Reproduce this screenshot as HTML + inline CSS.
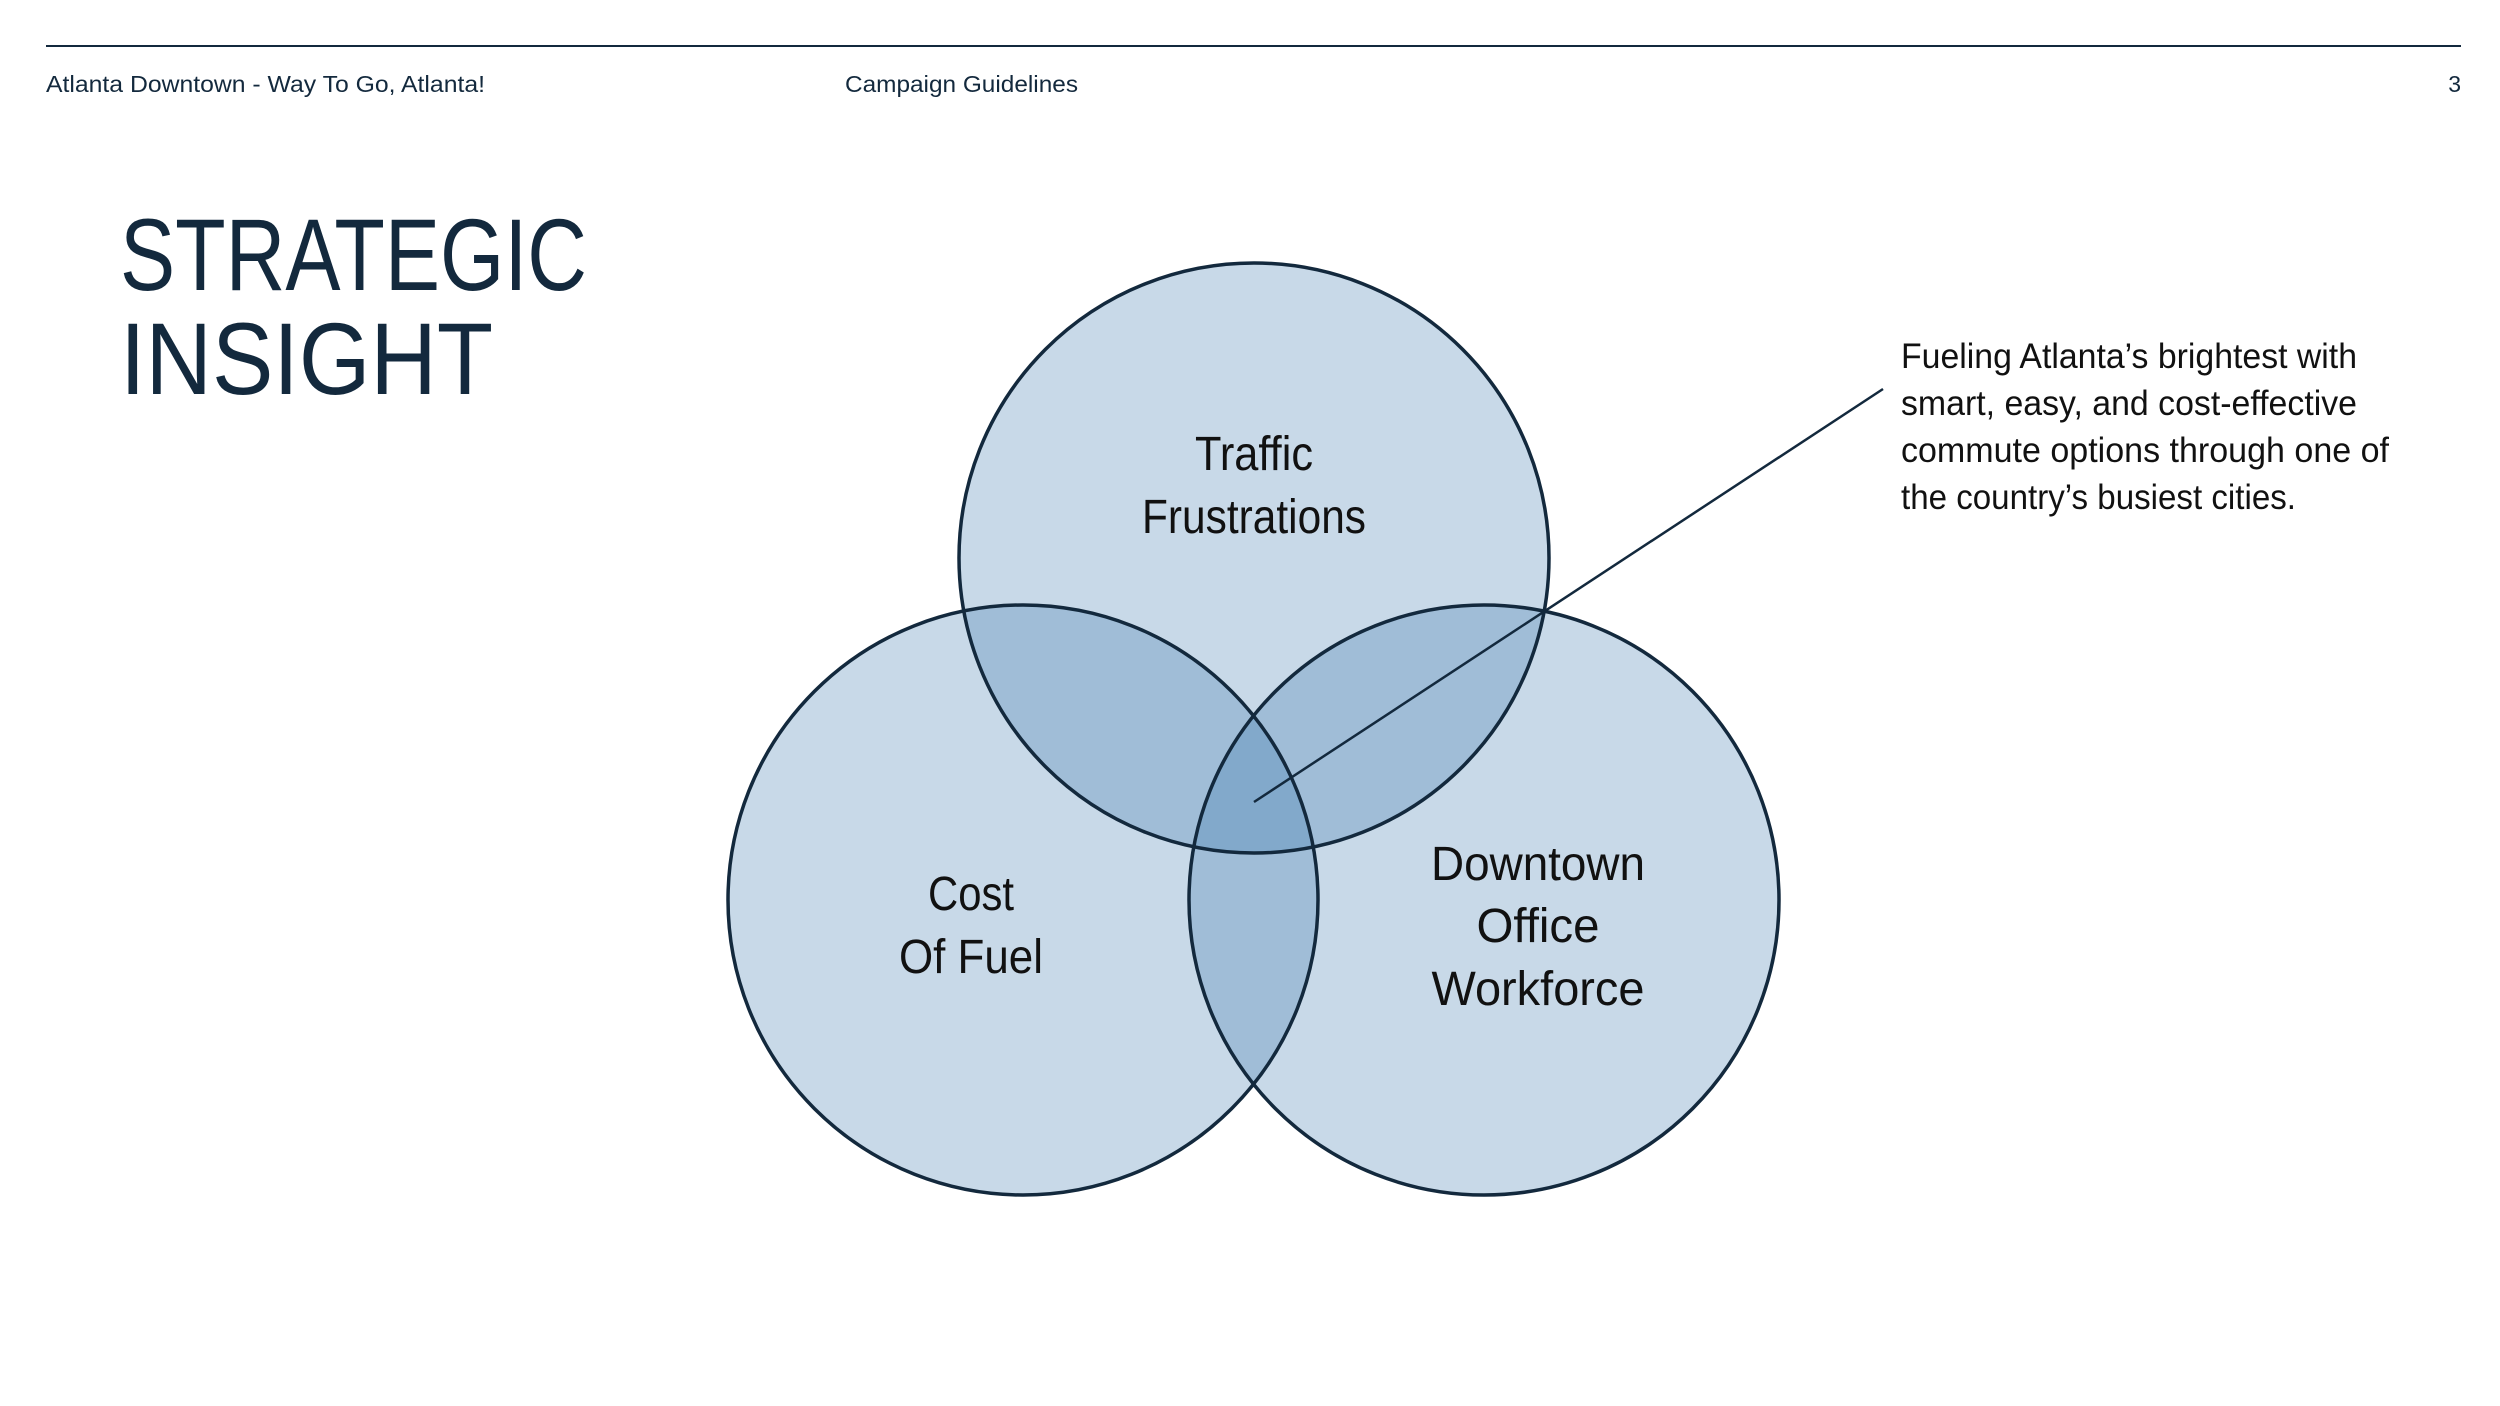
<!DOCTYPE html>
<html><head><meta charset="utf-8"><style>html,body{margin:0;padding:0;background:#fff}svg{display:block}</style></head>
<body>
<svg width="2500" height="1406" viewBox="0 0 2500 1406" xmlns="http://www.w3.org/2000/svg" font-family="Liberation Sans, sans-serif" fill="#13293d">
<line x1="46" y1="46" x2="2461" y2="46" stroke="#13293d" stroke-width="2"/>
<text x="46" y="92" font-size="23" textLength="439" lengthAdjust="spacingAndGlyphs">Atlanta Downtown - Way To Go, Atlanta!</text>
<text x="845" y="92" font-size="23" textLength="233" lengthAdjust="spacingAndGlyphs">Campaign Guidelines</text>
<text x="2461" y="92" font-size="23" text-anchor="end">3</text>
<text x="120" y="290" font-size="102" textLength="467" lengthAdjust="spacingAndGlyphs">STRATEGIC</text>
<text x="120" y="394" font-size="102" textLength="373" lengthAdjust="spacingAndGlyphs">INSIGHT</text>
<g fill="rgba(51,114,170,0.27)">
<circle cx="1254" cy="558" r="295"/>
<circle cx="1023" cy="900" r="295"/>
<circle cx="1484" cy="900" r="295"/>
</g>
<g fill="none" stroke="#13293d" stroke-width="3.5">
<circle cx="1254" cy="558" r="295"/>
<circle cx="1023" cy="900" r="295"/>
<circle cx="1484" cy="900" r="295"/>
</g>
<line x1="1254" y1="802" x2="1883" y2="389" stroke="#13293d" stroke-width="2.5"/>
<g font-size="48" text-anchor="middle" fill="#111">
<text x="1254" y="470" textLength="118" lengthAdjust="spacingAndGlyphs">Traffic</text>
<text x="1254" y="533" textLength="224" lengthAdjust="spacingAndGlyphs">Frustrations</text>
<text x="971" y="910" textLength="86" lengthAdjust="spacingAndGlyphs">Cost</text>
<text x="971" y="973" textLength="144" lengthAdjust="spacingAndGlyphs">Of Fuel</text>
<text x="1538" y="880" textLength="214" lengthAdjust="spacingAndGlyphs">Downtown</text>
<text x="1538" y="942" textLength="123" lengthAdjust="spacingAndGlyphs">Office</text>
<text x="1538" y="1005" textLength="213" lengthAdjust="spacingAndGlyphs">Workforce</text>
</g>
<g font-size="35" fill="#111">
<text x="1901" y="368" textLength="456" lengthAdjust="spacingAndGlyphs">Fueling Atlanta’s brightest with</text>
<text x="1901" y="415" textLength="456" lengthAdjust="spacingAndGlyphs">smart, easy, and cost-effective</text>
<text x="1901" y="462" textLength="488" lengthAdjust="spacingAndGlyphs">commute options through one of</text>
<text x="1901" y="509" textLength="395" lengthAdjust="spacingAndGlyphs">the country’s busiest cities.</text>
</g>
</svg>
</body></html>
